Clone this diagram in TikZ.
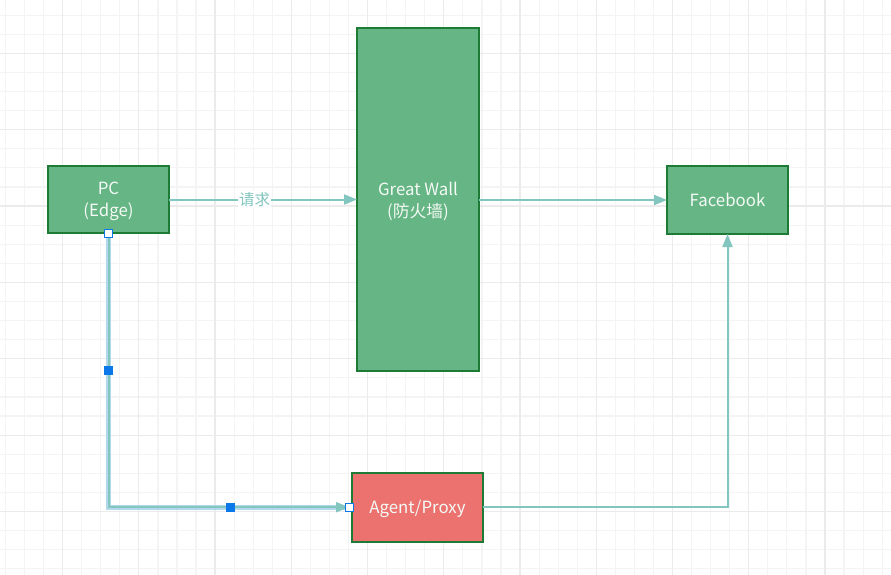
\documentclass[tikz,border=0pt]{standalone}
\usepackage{fontspec}
\setmainfont{Noto Sans CJK SC}
\usetikzlibrary{arrows.meta,calc}
\definecolor{gridminor}{HTML}{F4F4F4}
\definecolor{gridmajor}{HTML}{EBEBEB}
\definecolor{boxgreen}{HTML}{66B584}
\definecolor{boxborder}{HTML}{1E7B36}
\definecolor{boxred}{HTML}{EC726F}
\definecolor{conncol}{HTML}{82C6BF}
\definecolor{glowcol}{HTML}{9FCFE6}
\definecolor{handleblue}{HTML}{0A78E8}
\definecolor{txtwhite}{HTML}{F4FAF6}
\tikzset{
  box/.style={draw=boxborder, line width=1.8pt, fill=boxgreen, text=txtwhite,
    font=\fontsize{16.8}{22}\selectfont, align=center, inner sep=0pt, outer sep=0pt,
    text depth=-1.5pt},
  conn/.style={draw=conncol, line width=2pt,
    -{Triangle[length=13pt,width=10pt,fill=conncol]}},
  edgelabel/.style={fill=white, text=conncol, font=\fontsize{15.5}{17}\selectfont, inner sep=1pt},
  handle/.style={draw=handleblue, fill=handleblue, minimum size=8pt, inner sep=0pt, line width=0.8pt},
  endhandle/.style={draw=handleblue, fill=white, minimum size=8pt, inner sep=0pt, line width=0.8pt},
}
\begin{document}
\begin{tikzpicture}[x=1pt,y=-1pt]
\useasboundingbox (0,0) rectangle (891,575);
\fill[white] (0,0) rectangle (891,575);
% minor grid
\foreach \i in {-3,...,43} {
  \draw[gridminor, line width=1.2pt] ({62.6+19.06*\i},0) -- ({62.6+19.06*\i},575);
}
\foreach \j in {-2,...,28} {
  \draw[gridminor, line width=1.2pt] (0,{53.3+19.09*\j}) -- (891,{53.3+19.09*\j});
}
% major grid
\foreach \i in {0,...,10} {
  \draw[gridmajor, line width=1.2pt] ({62.6+76.24*\i},0) -- ({62.6+76.24*\i},575);
}
\foreach \j in {0,...,6} {
  \draw[gridmajor, line width=1.2pt] (0,{53.3+76.37*\j}) -- (891,{53.3+76.37*\j});
}
% nodes
\node[box, minimum width=121pt, minimum height=67pt] (pc) at (108.5,199.5) {PC\\(Edge)};
\node[box, minimum width=122pt, minimum height=343pt] (gw) at (418,199.8) {Great Wall\\(防火墙)};
\node[box, minimum width=121pt, minimum height=68pt] (fb) at (727.5,200) {Facebook};
\node[box, fill=boxred, minimum width=131pt, minimum height=69pt] (ag) at (417.5,507.2) {Agent/Proxy};
% connectors
\draw[conn] (pc.east) -- node[edgelabel, pos=0.455] {请求} (pc.east -| gw.west);
\draw[conn] (gw.east |- fb.west) -- (fb.west);
\draw[conn] (ag.east) -| (fb.south);
% selected connector
\draw[glowcol, line width=5pt, opacity=0.8] (pc.south) |- ($(ag.west)+(-3,0)$);
\draw[conn] (pc.south) |- ($(ag.west)+(-3,0)$);
\node[endhandle] (h1) at (pc.south) {};
\node[endhandle] (h2) at ($(ag.west)+(-2.5,0)$) {};
\node[handle] (h3) at ($(pc.south)!0.5!(pc.south |- ag.west)$) {};
\node[handle] (h4) at ($(pc.south |- ag.west)!0.5!(ag.west)$) {};
\end{tikzpicture}
\end{document}
